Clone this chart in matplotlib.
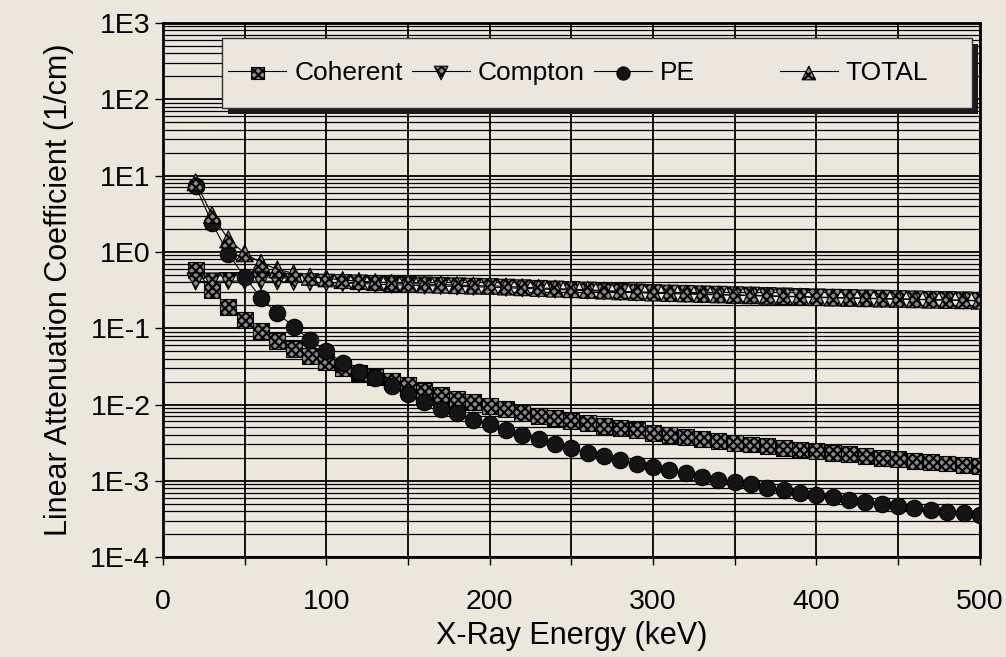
import matplotlib
matplotlib.use('Agg')
import matplotlib.pyplot as plt
from matplotlib.lines import Line2D
from matplotlib.patches import Rectangle
from matplotlib.transforms import ScaledTranslation
from matplotlib.legend_handler import HandlerTuple
from matplotlib.ticker import FixedLocator, LogLocator, NullFormatter

# values (1/cm), one point every 10 keV
energy = list(range(20, 501, 10))

coherent = [0.58, 0.316, 0.188, 0.128, 0.0927, 0.0686, 0.0533, 0.0436, 0.0357, 0.0298,
            0.0258, 0.0232, 0.0205, 0.0178, 0.0150, 0.0133, 0.0118, 0.0109, 0.00964, 0.00873,
            0.00767, 0.00714, 0.00671, 0.00608, 0.00567, 0.00528, 0.00497, 0.00463, 0.00419, 0.00394,
            0.00371, 0.00353, 0.00332, 0.00316, 0.00299, 0.00286, 0.00271, 0.00258, 0.00246, 0.00233,
            0.00222, 0.00211, 0.00201, 0.00191, 0.00183, 0.00176, 0.00169, 0.00163, 0.00156]

compton = [0.41, 0.41, 0.415, 0.415, 0.415, 0.41, 0.405, 0.40, 0.395, 0.39,
           0.385, 0.378, 0.372, 0.366, 0.362, 0.358, 0.353, 0.349, 0.345, 0.339,
           0.333, 0.327, 0.321, 0.316, 0.311, 0.304, 0.298, 0.293, 0.288, 0.284,
           0.281, 0.277, 0.274, 0.27, 0.267, 0.263, 0.26, 0.256, 0.253, 0.25,
           0.248, 0.245, 0.243, 0.24, 0.238, 0.235, 0.233, 0.231, 0.228]

pe = [7.2, 2.41, 0.94, 0.473, 0.25, 0.157, 0.105, 0.070, 0.050, 0.0353,
      0.0269, 0.0220, 0.0175, 0.0136, 0.0109, 0.0088, 0.0077, 0.00627, 0.0055, 0.00463,
      0.00398, 0.00353, 0.00301, 0.00267, 0.00229, 0.00211, 0.00187, 0.00164, 0.0015, 0.00139,
      0.00125, 0.00113, 0.00102, 0.000955, 0.0009, 0.000813, 0.000757, 0.000685, 0.00065, 0.000608,
      0.00056, 0.000522, 0.000496, 0.000467, 0.000436, 0.000414, 0.000394, 0.000375, 0.000356]

total = [8.2, 3.05, 1.46, 0.96, 0.72, 0.59, 0.524, 0.473, 0.451, 0.428,
         0.415, 0.403, 0.393, 0.385, 0.378, 0.373, 0.367, 0.362, 0.36, 0.352,
         0.345, 0.338, 0.331, 0.325, 0.319, 0.312, 0.305, 0.30, 0.294, 0.29,
         0.286, 0.282, 0.278, 0.274, 0.271, 0.267, 0.263, 0.26, 0.256, 0.253,
         0.251, 0.248, 0.245, 0.243, 0.24, 0.237, 0.235, 0.233, 0.23]

xticks = [0, 100, 200, 300, 400, 500]
xgrid = [50, 150, 250, 350, 450]
yticks = [1e-4, 1e-3, 1e-2, 1e-1, 1e0, 1e1, 1e2, 1e3]
ylabels = ['1E-4', '1E-3', '1E-2', '1E-1', '1E0', '1E1', '1E2', '1E3']

plt.rcParams['font.family'] = ['Liberation Sans', 'DejaVu Sans']
plt.rcParams['hatch.linewidth'] = 1.5
bg = '#ece7dc'

fig = plt.figure(figsize=(10.06, 6.57), dpi=100, facecolor=bg)
ax = fig.add_axes([0.162, 0.152, 0.812, 0.813])
ax.set_facecolor(bg)
ax.set_yscale('log')
ax.set_xlim(0, 500)
ax.set_ylim(1e-4, 1e3)

ax.set_xticks(xticks)
ax.xaxis.set_minor_locator(FixedLocator(xgrid))
ax.set_yticks(yticks, ylabels)
ax.yaxis.set_minor_locator(LogLocator(base=10, subs=range(2, 10), numticks=30))
ax.yaxis.set_minor_formatter(NullFormatter())

ax.set_axisbelow(True)
ax.grid(which='both', axis='x', color='black', lw=1.3)
ax.grid(which='major', axis='y', color='black', lw=1.3)
ax.grid(which='minor', axis='y', color='black', lw=0.9)

ax.tick_params(axis='x', which='both', direction='out', length=6, width=1, pad=17, labelsize=20.5)
ax.tick_params(axis='y', which='major', direction='out', length=6, width=1, pad=3, labelsize=20.5)
ax.tick_params(axis='y', which='minor', length=0)
for sp in ax.spines.values():
    sp.set_linewidth(2)

ln_coh, = ax.plot(energy, coherent, color='black', lw=0.8, zorder=2)
ln_com, = ax.plot(energy, compton, color='black', lw=0.8, zorder=2)
ln_pe, = ax.plot(energy, pe, color='black', lw=0.8, zorder=2)
ln_tot, = ax.plot(energy, total, color='black', lw=0.8, zorder=2)

mfill = '#8a8a8a'
sc_coh = ax.scatter(energy, coherent, marker='s', s=130, facecolor=mfill, edgecolor='black',
                    hatch='xxxx', linewidths=0.8, zorder=3)
sc_com = ax.scatter(energy, compton, marker='v', s=150, facecolor=mfill, edgecolor='black',
                    hatch='xxxx', linewidths=0.8, zorder=3)
sc_pe = ax.scatter(energy, pe, marker='o', s=140, facecolor='#141414', edgecolor='black',
                   linewidths=0.8, zorder=4)
sc_tot = ax.scatter(energy, total, marker='^', s=150, facecolor=mfill, edgecolor='black',
                    hatch='xxxx', linewidths=0.8, zorder=5)

# legend box: frame and heavy drop shadow drawn by hand, entries by ax.legend
box_x, box_y, box_w, box_h = 0.072, 0.841, 0.918, 0.131
shadow_tr = ax.transAxes + ScaledTranslation(4.5 / 72, -4.5 / 72, fig.dpi_scale_trans)
ax.add_patch(Rectangle((box_x, box_y), box_w, box_h, transform=shadow_tr,
                       facecolor='#1a1a1a', edgecolor='none', zorder=6, clip_on=False))
ax.add_patch(Rectangle((box_x, box_y), box_w, box_h, transform=ax.transAxes,
                       facecolor='#ebe7df', edgecolor='#333333', lw=1.0, zorder=6.1, clip_on=False))

handles = [(ln_coh, sc_coh), (ln_com, sc_com), (ln_pe, sc_pe),
           Line2D([], [], ls='none'), (ln_tot, sc_tot)]
labels = ['Coherent', 'Compton', 'PE', '', 'TOTAL']
leg = ax.legend(handles, labels, handler_map={tuple: HandlerTuple(ndivide=1)},
                ncol=5, loc='center left', bbox_to_anchor=(box_x, box_y + box_h / 2),
                borderaxespad=0, frameon=False, fontsize=19, markerscale=0.8,
                handlelength=2.2, handletextpad=0.3, columnspacing=0.35, borderpad=0.25)
leg.set_zorder(7)

ax.set_xlabel('X-Ray Energy (keV)', fontsize=22, labelpad=4)
ax.set_ylabel('Linear Attenuation Coefficient (1/cm)', fontsize=22, labelpad=12)

fig.savefig('out.png', dpi=100, facecolor=bg)
